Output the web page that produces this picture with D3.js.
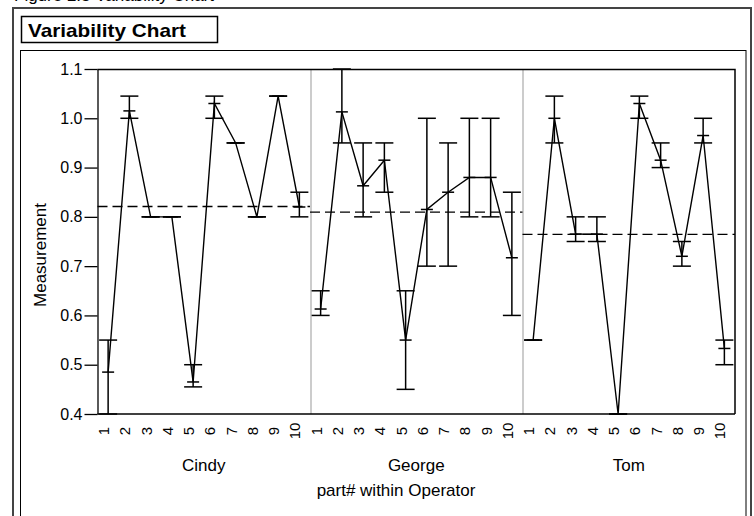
<!DOCTYPE html>
<html>
<head>
<meta charset="utf-8">
<script src="https://cdn.jsdelivr.net/npm/d3@7"></script>
<style>
    body { margin: 0; background: #fff; }
    svg { display: block; font-family: "Liberation Sans", Arial, sans-serif; }
    .frame-outer { fill: none; stroke: #444; stroke-width: 2; }
    .frame-inner { fill: none; stroke: #000; stroke-width: 1; }
    .title-box { fill: #fff; stroke: #000; stroke-width: 1.5; }
    .axis text { font-size: 16px; fill: #000; }
    .axis path, .axis line { stroke: #000; stroke-width: 1.3; }
    .part-label { font-size: 15px; }
    .op-label, .axis-label { font-size: 17px; }
    .range-bar { stroke: #000; stroke-width: 1.5; }
    .mean-line { fill: none; stroke: #000; stroke-width: 1.4; }
    .grand-mean { stroke: #000; stroke-width: 1.3; stroke-dasharray: 10,5; }
    .sep { stroke: #999; stroke-width: 1; }
</style>
</head>
<body>
<svg id="chart" width="754" height="516"></svg>
<script>
/*********************/
/*** DATA ***/
/*********************/

let operators = ["Cindy", "George", "Tom"];
let parts = ["1", "2", "3", "4", "5", "6", "7", "8", "9", "10"];
let y_ticks = [0.4, 0.5, 0.6, 0.7, 0.8, 0.9, 1.0, 1.1];

// range bar top, cell mean, range bar bottom per part
let cindy_hi   = [0.55, 1.045, 0.80, 0.80, 0.50, 1.045, 0.95, 0.80, 1.045, 0.85];
let cindy_mean = [0.485, 1.015, 0.80, 0.80, 0.465, 1.03, 0.95, 0.80, 1.045, 0.82];
let cindy_lo   = [0.40, 1.00, 0.80, 0.80, 0.455, 1.00, 0.95, 0.80, 1.045, 0.80];

let george_hi   = [0.65, 1.10, 0.95, 0.95, 0.65, 1.00, 0.95, 1.00, 1.00, 0.85];
let george_mean = [0.613, 1.013, 0.863, 0.915, 0.55, 0.815, 0.85, 0.88, 0.88, 0.717];
let george_lo   = [0.60, 0.95, 0.80, 0.85, 0.45, 0.70, 0.70, 0.80, 0.80, 0.60];

let tom_hi   = [0.55, 1.045, 0.80, 0.80, 0.40, 1.045, 0.95, 0.75, 1.00, 0.55];
let tom_mean = [0.55, 1.00, 0.765, 0.765, 0.40, 1.03, 0.915, 0.72, 0.965, 0.533];
let tom_lo   = [0.55, 0.95, 0.75, 0.75, 0.40, 1.00, 0.90, 0.70, 0.95, 0.50];

/*********************/
/*** INIT VARIABLE ***/
/*********************/

let svg = d3.select("#chart");

let margin = {top: 69, right: 19, bottom: 102, left: 97.5},
    width  = 754 - margin.left - margin.right,
    height = 516 - margin.top - margin.bottom;

let x_op = d3.scaleBand().domain(operators).range([0, width]),
    x_part = d3.scaleBand().domain(parts).range([0, x_op.bandwidth()]),
    y = d3.scaleLinear().domain([0.4, 1.1]).range([height, 0]);

let series = {
    "Cindy":  {hi: cindy_hi,  mean: cindy_mean,  lo: cindy_lo},
    "George": {hi: george_hi, mean: george_mean, lo: george_lo},
    "Tom":    {hi: tom_hi,    mean: tom_mean,    lo: tom_lo}
};

let cells = [];
operators.forEach((op) => {
    parts.forEach((p, i) => {
        cells.push({op: op, part: p, hi: series[op].hi[i], mean: series[op].mean[i], lo: series[op].lo[i]});
    });
});

let cx = (d) => margin.left + x_op(d.op) + x_part(d.part) + x_part.bandwidth() / 2;

/********************************/
/*** DECLARE HELPER FUNCTIONS ***/
/********************************/

function render_frame() {
    // caption line cut off at the top of the page
    svg.append("text")
        .attr("x", 14)
        .attr("y", 1)
        .style("font-size", "17px")
        .text("Figure 2.3 Variability Chart");

    svg.append("rect").classed("frame-outer", true)
        .attr("x", 13).attr("y", 8).attr("width", 738).attr("height", 600);

    svg.append("rect").classed("frame-inner", true)
        .attr("x", 20.5).attr("y", 50.5).attr("width", 725.5).attr("height", 600);

    svg.append("rect").classed("title-box", true)
        .attr("x", 21.5).attr("y", 16.5).attr("width", 196).attr("height", 26);

    svg.append("text")
        .attr("x", 28)
        .attr("y", 37)
        .attr("textLength", 158)
        .attr("lengthAdjust", "spacingAndGlyphs")
        .style("font-size", "19px")
        .style("font-weight", "bold")
        .text("Variability Chart");
}

function render_axes() {
    let g = svg.append("g").attr("transform", `translate(${margin.left}, ${margin.top})`);

    // panel separators
    g.selectAll("line.sep")
        .data(operators.slice(1)).enter()
        .append("line").classed("sep", true)
        .attr("x1", (d) => Math.round(x_op(d)) + 0.5)
        .attr("x2", (d) => Math.round(x_op(d)) + 0.5)
        .attr("y1", 0).attr("y2", height);

    // top and right border
    g.append("path")
        .attr("d", `M0,0.5H${width}V${height}`)
        .attr("fill", "none").attr("stroke", "#000").attr("stroke-width", 1.5);

    g.append("g")
        .classed("axis", true)
        .call(d3.axisLeft(y).tickValues(y_ticks).tickFormat(d3.format(".1f")).tickSize(13).tickSizeOuter(0).tickPadding(2));

    g.append("line")
        .attr("x1", 0).attr("x2", width)
        .attr("y1", height).attr("y2", height)
        .attr("stroke", "#000").attr("stroke-width", 1.5);

    // part numbers within each operator
    svg.selectAll("text.part-label")
        .data(cells).enter()
        .append("text").classed("part-label", true)
        .attr("transform", (d) => `translate(${cx(d) + 1}, ${margin.top + height + 17}) rotate(-90)`)
        .attr("text-anchor", "middle")
        .text((d) => d.part);

    svg.selectAll("text.op-label")
        .data(operators).enter()
        .append("text").classed("op-label", true)
        .attr("x", (d) => margin.left + x_op(d) + x_op.bandwidth() / 2)
        .attr("y", 471)
        .attr("text-anchor", "middle")
        .text((d) => d);

    svg.append("text").classed("axis-label", true)
        .attr("x", 396)
        .attr("y", 496)
        .attr("text-anchor", "middle")
        .text("part# within Operator");

    svg.append("text").classed("axis-label", true)
        .attr("transform", `translate(46, 255) rotate(-90)`)
        .attr("text-anchor", "middle")
        .text("Measurement");
}

function render_bars() {
    let g = svg.append("g");

    // vertical range
    g.selectAll("line.range")
        .data(cells).enter()
        .append("line").classed("range-bar", true)
        .attr("x1", cx).attr("x2", cx)
        .attr("y1", (d) => margin.top + y(d.hi))
        .attr("y2", (d) => margin.top + y(d.lo));

    // caps at top and bottom of range
    ["hi", "lo"].forEach((k) => {
        g.selectAll("line.cap-" + k)
            .data(cells).enter()
            .append("line").classed("range-bar", true)
            .attr("x1", (d) => cx(d) - 9).attr("x2", (d) => cx(d) + 9)
            .attr("y1", (d) => margin.top + y(d[k]))
            .attr("y2", (d) => margin.top + y(d[k]));
    });

    // short tick at the cell mean
    g.selectAll("line.mean-tick")
        .data(cells).enter()
        .append("line").classed("range-bar", true)
        .attr("x1", (d) => cx(d) - 6).attr("x2", (d) => cx(d) + 6)
        .attr("y1", (d) => margin.top + y(d.mean))
        .attr("y2", (d) => margin.top + y(d.mean));
}

function render_means() {
    let line = d3.line()
        .x(cx)
        .y((d) => margin.top + y(d.mean));

    operators.forEach((op) => {
        let rows = cells.filter((d) => d.op === op);

        svg.append("path").classed("mean-line", true)
            .attr("d", line(rows));

        // operator mean, dashed across the panel
        let m = d3.mean(rows, (d) => d.mean);
        svg.append("line").classed("grand-mean", true)
            .attr("x1", margin.left + x_op(op))
            .attr("x2", margin.left + x_op(op) + x_op.bandwidth())
            .attr("y1", margin.top + y(m))
            .attr("y2", margin.top + y(m));
    });
}

/*********************************/
/*** DRAW ***/
/*********************************/

render_frame();
render_axes();
render_bars();
render_means();
</script>
</body>
</html>
